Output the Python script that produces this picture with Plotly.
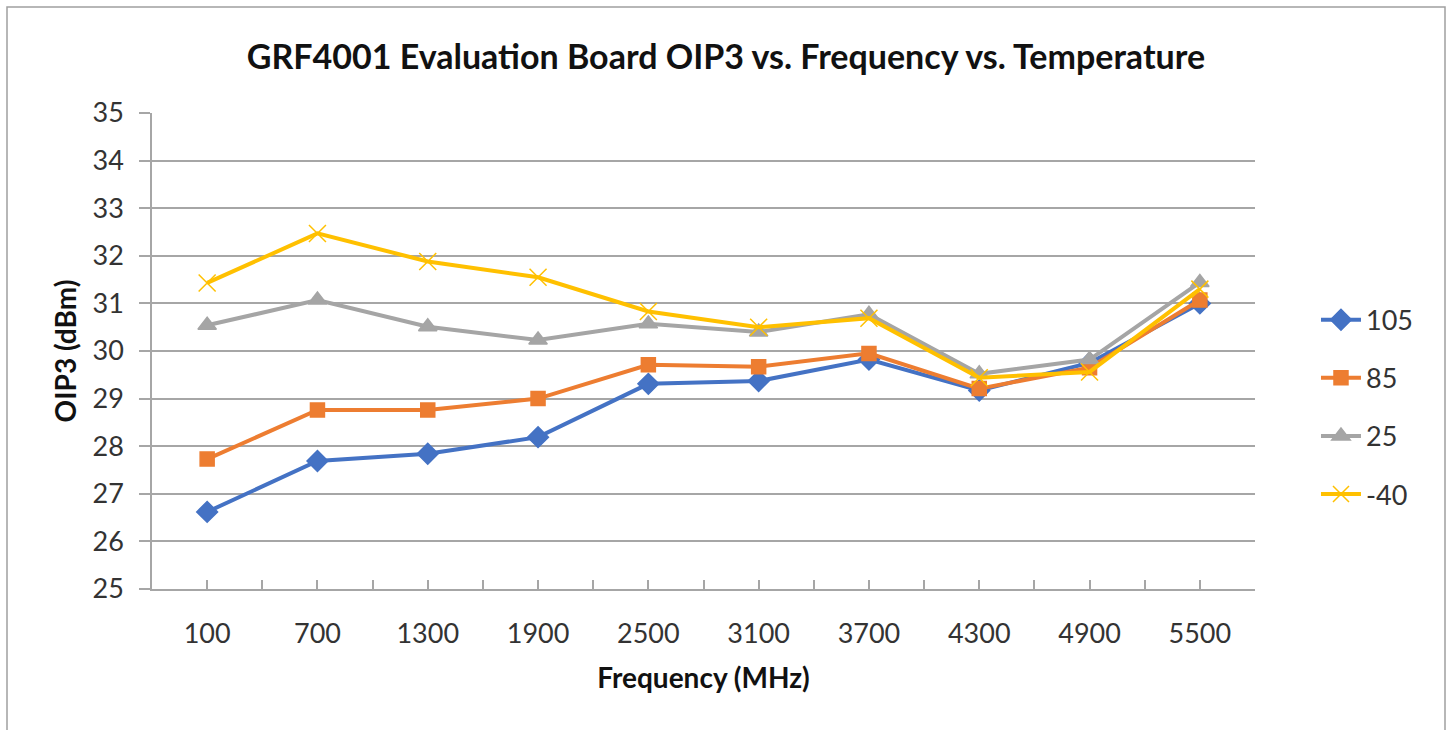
import plotly.graph_objects as go

freqs = [100, 700, 1300, 1900, 2500, 3100, 3700, 4300, 4900, 5500]
oip3_105 = [26.62, 27.69, 27.84, 28.19, 29.31, 29.37, 29.82, 29.17, 29.75, 31.00]
oip3_85 = [27.73, 28.76, 28.76, 29.00, 29.71, 29.67, 29.95, 29.21, 29.65, 31.07]
oip3_25 = [30.54, 31.07, 30.51, 30.23, 30.57, 30.40, 30.77, 29.52, 29.82, 31.44]
oip3_m40 = [31.43, 32.47, 31.88, 31.55, 30.83, 30.50, 30.69, 29.44, 29.56, 31.30]

series = [
    ("105", oip3_105, "#4472C4", "diamond", 16),
    ("85", oip3_85, "#ED7D31", "square", 14),
    ("25", oip3_25, "#A5A5A5", "triangle-up", 16),
    ("-40", oip3_m40, "#FFC000", "x-thin", 17),
]

FONT = "Lato"
TXT = "#333333"
GRID = "#A6A6A6"

fig = go.Figure()
for name, vals, color, sym, size in series:
    fig.add_trace(go.Scatter(
        x=freqs, y=vals, name=name, mode="lines+markers",
        legendgroup=name,
        line=dict(color=color, width=4),
        marker=dict(symbol=sym, size=size, color=color,
                    line=dict(color=color, width=1.5)),
    ))

fig.update_layout(
    width=1449, height=730,
    paper_bgcolor="white", plot_bgcolor="white",
    margin=dict(l=152, r=194, t=113, b=141),
    font=dict(family=FONT, size=27, color=TXT),
    title=dict(text="<b>GRF4001 Evaluation Board OIP3 vs. Frequency vs. Temperature</b>",
               x=0.501, xref="container", xanchor="center", y=1 - 57 / 730, yanchor="middle",
               font=dict(family=FONT, size=34, color="#111111")),
    legend=dict(x=1.0426 + 14 / 1103, y=0.382, xanchor="left", yanchor="middle",
                font=dict(family=FONT, size=27, color=TXT),
                tracegroupgap=20, itemwidth=40, bgcolor="rgba(0,0,0,0)"),
    showlegend=True,
)

fig.update_xaxes(
    range=[-200, 5800], tickmode="array", tickvals=freqs,
    ticktext=[str(f) for f in freqs],
    showgrid=False, zeroline=False,
    showline=True, linecolor=GRID, linewidth=1.5,
    ticks="inside", ticklen=7, tickcolor=GRID, tickwidth=1.5,
    minor=dict(ticks="inside", ticklen=9, tickcolor=GRID, tickwidth=1.5,
               tick0=-200, dtick=300, showgrid=False),
    ticklabelstandoff=20,
    title=dict(text="<b>Frequency (MHz)</b>", standoff=20,
               font=dict(family=FONT, size=28, color="#111111")),
)
fig.update_yaxes(
    range=[25, 35], dtick=1, tick0=25,
    showgrid=True, gridcolor=GRID, gridwidth=1.5,
    zeroline=False,
    showline=True, linecolor=GRID, linewidth=1.5,
    ticks="outside", ticklen=11, tickcolor=GRID, tickwidth=1.5,
    ticklabelstandoff=10,
    title=dict(text="<b>OIP3 (dBm)</b>", standoff=8,
               font=dict(family=FONT, size=28, color="#111111")),
)

# chart border (bottom edge lies below the visible page)
pw, ph = 1449 - 152 - 194, 730 - 113 - 141
fig.add_shape(type="rect", xref="paper", yref="paper",
              x0=(7 - 152) / pw, x1=(1445 - 152) / pw,
              y0=(589 - 740) / ph, y1=(589 - 7) / ph,
              line=dict(color="#A0A0A0", width=1.5), fillcolor="rgba(0,0,0,0)",
              layer="below")

fig.write_html("out.html", config={"displayModeBar": False},
               post_script="document.body.style.margin='0px';document.body.style.overflow='hidden';")
